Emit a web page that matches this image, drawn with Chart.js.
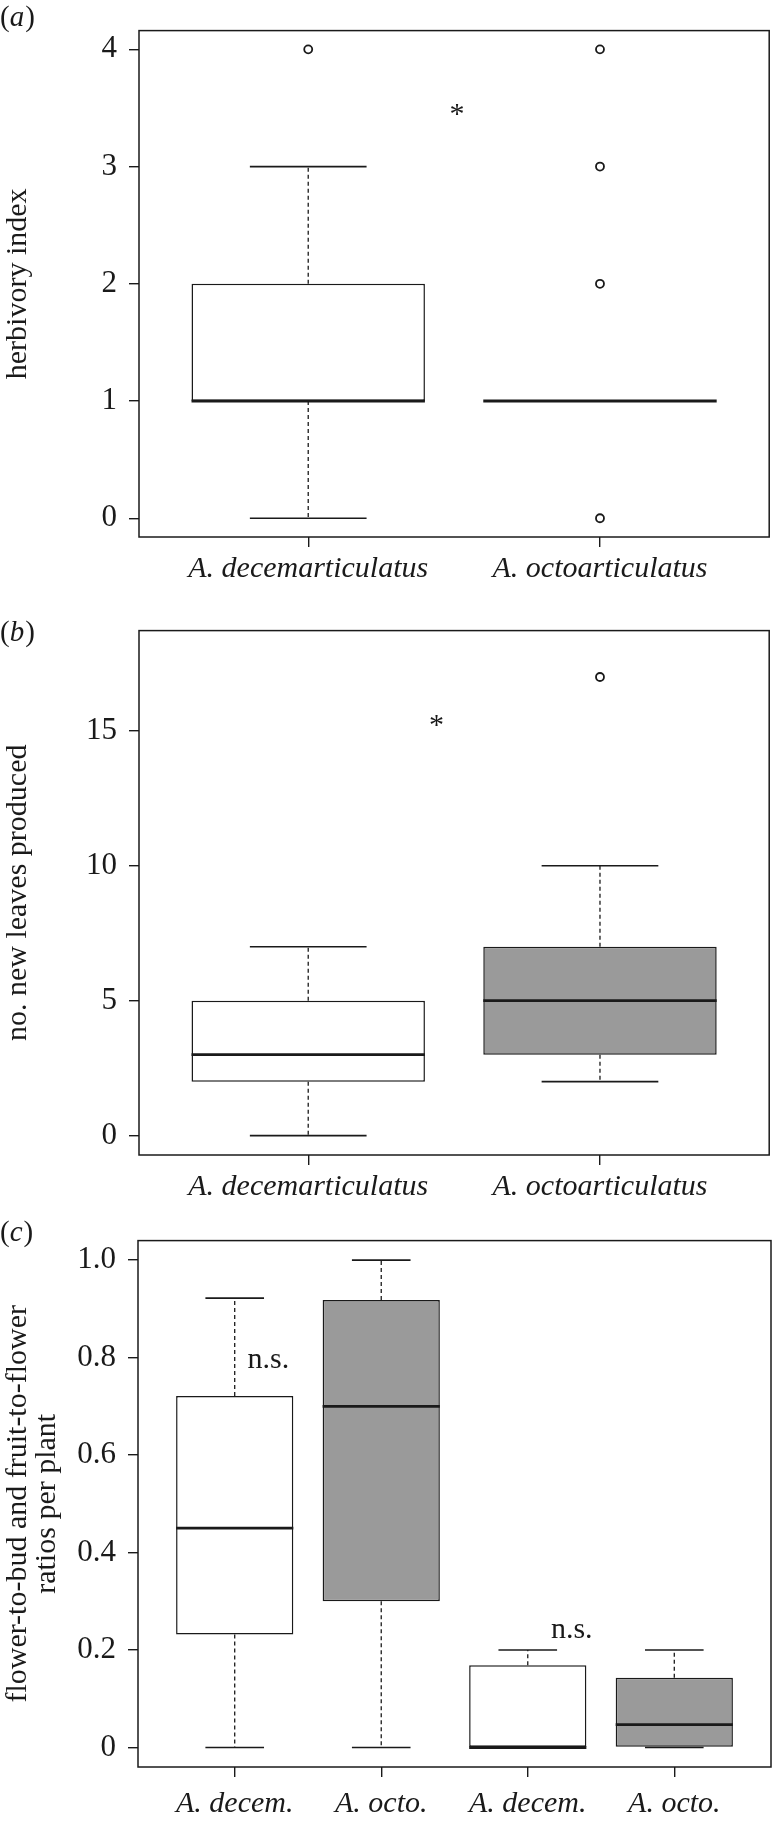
<!DOCTYPE html>
<html>
<head>
<meta charset="utf-8">
<script src="https://cdn.jsdelivr.net/npm/chart.js@4.4.0/dist/chart.umd.min.js"></script>
<style>
  html, body { margin: 0; padding: 0; background: #fff; }
  #page { position: relative; width: 775px; height: 1824px; background: #fff; }
  #page canvas { position: absolute; left: 0; }
</style>
</head>
<body>
<div id="page">
  <canvas id="panelA" width="775" height="600" style="top:0px"></canvas>
  <canvas id="panelB" width="775" height="610" style="top:600px"></canvas>
  <canvas id="panelC" width="775" height="614" style="top:1210px"></canvas>
</div>
<script>
// (a) herbivory index
const herbLabels = ['A. decemarticulatus', 'A. octoarticulatus'];
const herbLow = [0, 1];
const herbQ1 = [1, 1];
const herbMedian = [1, 1];
const herbQ3 = [2, 1];
const herbHigh = [3, 1];
const herbOutliers = [[4], [0, 2, 3, 4]];
const herbLimits = [0, 4];
const herbTicks = [0, 1, 2, 3, 4];
const herbTickLabels = ['0', '1', '2', '3', '4'];
const herbNotes = [{ x: 1.51, y: 3.37, text: '*' }];

// (b) new leaves
const leafLabels = ['A. decemarticulatus', 'A. octoarticulatus'];
const leafLow = [0, 2];
const leafQ1 = [2, 3];
const leafMedian = [3, 5];
const leafQ3 = [5, 7];
const leafHigh = [7, 10];
const leafOutliers = [[], [17]];
const leafLimits = [0, 18];
const leafTicks = [0, 5, 10, 15];
const leafTickLabels = ['0', '5', '10', '15'];
const leafNotes = [{ x: 1.44, y: 14.9, text: '*' }];

// (c) flower-to-bud and fruit-to-flower ratios
const ratioLabels = ['A. decem.', 'A. octo.', 'A. decem.', 'A. octo.'];
const ratioLow = [0, 0, 0, 0];
const ratioQ1 = [0.232, 0.30, 0, 0];
const ratioMedian = [0.45, 0.70, 0, 0.047];
const ratioQ3 = [0.721, 0.918, 0.169, 0.143];
const ratioHigh = [0.922, 1.0, 0.2, 0.2];
const ratioOutliers = [[], [], [], []];
const ratioLimits = [0, 1];
const ratioTicks = [0, 0.2, 0.4, 0.6, 0.8, 1.0];
const ratioTickLabels = ['0', '0.2', '0.4', '0.6', '0.8', '1.0'];
const ratioNotes = [{ x: 1.23, y: 0.779, text: 'n.s.' }, { x: 3.30, y: 0.224, text: 'n.s.' }];

const INK = '#1a1a1a';
const GREY = '#9a9a9a';
const SERIF = "'Liberation Serif', 'Times New Roman', serif";

function boxDecor(cfg, pos) {
    return {
        id: 'boxDecor',
        afterDatasetsDraw(chart) {
            const { ctx, chartArea: area, scales: { x, y } } = chart;
            ctx.save();
            ctx.strokeStyle = INK;
            pos.forEach((p, i) => {
                const cx = x.getPixelForValue(p);
                // dashed whiskers
                ctx.lineWidth = 1.3;
                ctx.setLineDash([4, 3]);
                ctx.beginPath();
                ctx.moveTo(cx, y.getPixelForValue(cfg.q3[i]));
                ctx.lineTo(cx, y.getPixelForValue(cfg.high[i]));
                ctx.moveTo(cx, y.getPixelForValue(cfg.q1[i]));
                ctx.lineTo(cx, y.getPixelForValue(cfg.low[i]));
                ctx.stroke();
                ctx.setLineDash([]);
                // whisker caps
                ctx.lineWidth = 1.6;
                const c0 = x.getPixelForValue(p - 0.2);
                const c1 = x.getPixelForValue(p + 0.2);
                [cfg.low[i], cfg.high[i]].forEach(v => {
                    const yy = y.getPixelForValue(v);
                    ctx.beginPath();
                    ctx.moveTo(c0, yy);
                    ctx.lineTo(c1, yy);
                    ctx.stroke();
                });
                // median
                ctx.lineWidth = 2.8;
                const m = y.getPixelForValue(cfg.median[i]);
                ctx.beginPath();
                ctx.moveTo(x.getPixelForValue(p - 0.4), m);
                ctx.lineTo(x.getPixelForValue(p + 0.4), m);
                ctx.stroke();
            });

            // frame round the plot
            ctx.lineWidth = 1.5;
            ctx.strokeRect(area.left, area.top, area.right - area.left, area.bottom - area.top);

            // significance marks
            ctx.fillStyle = INK;
            ctx.font = '30px ' + SERIF;
            ctx.textAlign = 'center';
            ctx.textBaseline = 'alphabetic';
            cfg.notes.forEach(n => {
                ctx.fillText(n.text, x.getPixelForValue(n.x), y.getPixelForValue(n.y));
            });

            // panel letter, e.g. (a)
            ctx.textAlign = 'left';
            ctx.font = '29px ' + SERIF;
            let lx = 0;
            ctx.fillText('(', lx, cfg.letterY);
            lx += ctx.measureText('(').width;
            ctx.font = 'italic 29px ' + SERIF;
            ctx.fillText(cfg.letter, lx, cfg.letterY);
            lx += ctx.measureText(cfg.letter).width + 1;
            ctx.font = '29px ' + SERIF;
            ctx.fillText(')', lx, cfg.letterY);
            ctx.restore();
        }
    };
}

function makePanel(id, cfg) {
    const ctx = document.getElementById(id).getContext('2d');
    const n = cfg.labels.length;
    const pos = cfg.labels.map((_, i) => i + 1);
    const boxes = pos.map((p, i) => ({ x: p, y: [cfg.q1[i], cfg.q3[i]] }));
    const points = [];
    cfg.outliers.forEach((list, i) => list.forEach(v => points.push({ x: pos[i], y: v })));
    const yExt = (cfg.limits[1] - cfg.limits[0]) * 0.04;

    return new Chart(ctx, {
        type: 'bar',
        data: {
            datasets: [
                {
                    type: 'bar',
                    data: boxes,
                    backgroundColor: cfg.fills,
                    borderColor: INK,
                    borderWidth: 1.5,
                    borderSkipped: false,
                    barPercentage: 0.8,
                    categoryPercentage: 1,
                    order: 2
                },
                {
                    type: 'scatter',
                    data: points,
                    pointRadius: 4,
                    pointBackgroundColor: '#ffffff',
                    pointBorderColor: INK,
                    pointBorderWidth: 1.8,
                    order: 1
                }
            ]
        },
        options: {
            responsive: false,
            animation: false,
            layout: { padding: { top: cfg.top, right: 4, left: 0, bottom: 0 } },
            plugins: {
                legend: { display: false },
                tooltip: { enabled: false }
            },
            scales: {
                x: {
                    type: 'linear',
                    min: 0.5 - 0.04 * n,
                    max: n + 0.5 + 0.04 * n,
                    offset: false,
                    afterBuildTicks: s => { s.ticks = pos.map(v => ({ value: v })); },
                    afterFit: s => { s.height = cfg.xHeight; },
                    grid: { drawOnChartArea: false, offset: false, tickLength: 10, color: INK, lineWidth: 1.4 },
                    border: { display: false },
                    ticks: {
                        autoSkip: false,
                        maxRotation: 0,
                        padding: cfg.xPad,
                        color: INK,
                        font: { family: SERIF, size: 30, style: 'italic' },
                        callback: (v, i) => cfg.labels[i]
                    }
                },
                y: {
                    min: cfg.limits[0] - yExt,
                    max: cfg.limits[1] + yExt,
                    afterBuildTicks: s => { s.ticks = cfg.ticks.map(v => ({ value: v })); },
                    afterFit: s => { s.width = cfg.yWidth; },
                    grid: { drawOnChartArea: false, tickLength: 10, color: INK, lineWidth: 1.4 },
                    border: { display: false },
                    ticks: {
                        padding: 12,
                        color: INK,
                        font: { family: SERIF, size: 31 },
                        callback: (v, i) => cfg.tickLabels[i]
                    },
                    title: {
                        display: true,
                        text: cfg.yTitle,
                        color: INK,
                        font: { family: SERIF, size: 30, lineHeight: 0.95 },
                        padding: { top: 4, bottom: 0 }
                    }
                }
            }
        },
        plugins: [boxDecor(cfg, pos)]
    });
}

document.addEventListener('DOMContentLoaded', function() {
    makePanel('panelA', {
        labels: herbLabels, low: herbLow, q1: herbQ1, median: herbMedian, q3: herbQ3, high: herbHigh,
        outliers: herbOutliers, limits: herbLimits, ticks: herbTicks, tickLabels: herbTickLabels,
        notes: herbNotes, fills: ['#ffffff', '#ffffff'], yTitle: 'herbivory index',
        letter: 'a', letterY: 26, top: 10, xHeight: 63, xPad: 4, yWidth: 139
    });
    makePanel('panelB', {
        labels: leafLabels, low: leafLow, q1: leafQ1, median: leafMedian, q3: leafQ3, high: leafHigh,
        outliers: leafOutliers, limits: leafLimits, ticks: leafTicks, tickLabels: leafTickLabels,
        notes: leafNotes, fills: ['#ffffff', GREY], yTitle: 'no. new leaves produced',
        letter: 'b', letterY: 41, top: 27, xHeight: 55, xPad: 4, yWidth: 139
    });
    makePanel('panelC', {
        labels: ratioLabels, low: ratioLow, q1: ratioQ1, median: ratioMedian, q3: ratioQ3, high: ratioHigh,
        outliers: ratioOutliers, limits: ratioLimits, ticks: ratioTicks, tickLabels: ratioTickLabels,
        notes: ratioNotes, fills: ['#ffffff', GREY, '#ffffff', GREY],
        yTitle: ['flower-to-bud and fruit-to-flower', 'ratios per plant'],
        letter: 'c', letterY: 31, top: 27, xHeight: 57, xPad: 9, yWidth: 138
    });
});
</script>
</body>
</html>
